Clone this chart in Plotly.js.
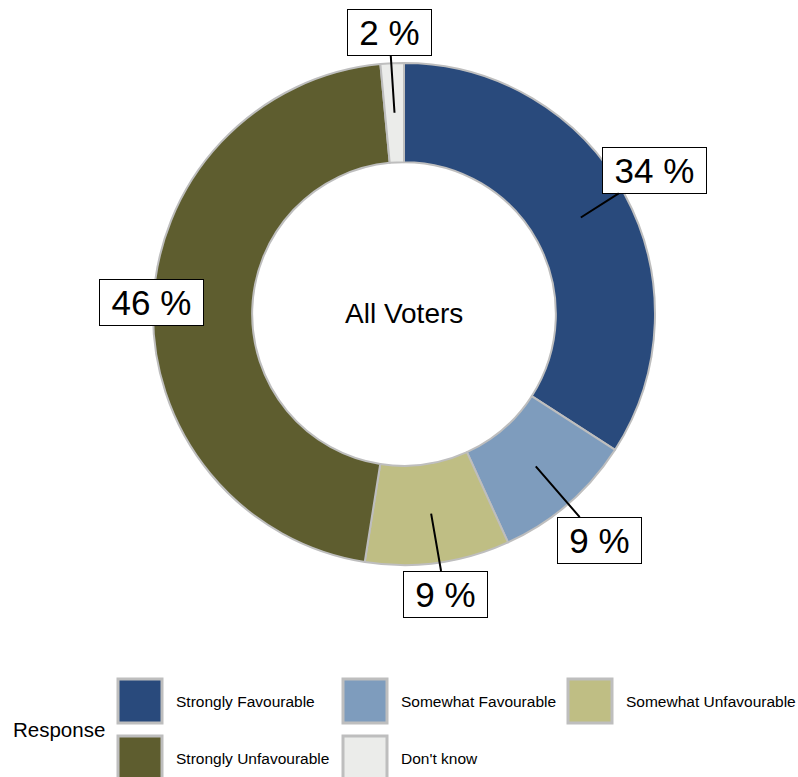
<!DOCTYPE html>
<html>
<head>
<meta charset="utf-8">
<script src="https://cdn.plot.ly/plotly-3.0.1.min.js"></script>
<style>html,body{margin:0;padding:0;background:#fff;}#chart{width:798px;height:777px;}</style>
</head>
<body>
<div id="chart"></div>
<script>
// ---- data ----
const categories = ["Strongly Favourable", "Somewhat Favourable", "Somewhat Unfavourable", "Strongly Unfavourable", "Don't know"];
const shares = [34.1, 9.1, 9.3, 46.0, 1.5];
const centerLabel = "All Voters";
const legendTitle = "Response";

// ---- style / layout ----
const colors = ["#294a7c", "#7e9cbd", "#bfbe84", "#5e5d2f", "#ebecea"];
const W = 798, H = 777;
const cx = 404, cy = 314, R = 251, holeFrac = 0.605;
const labelRadius = [289, 299, 283, 253, 282];
const labelAngleShift = [-1.2, 0, -0.6, 0.9, -0.3]; // degrees
const tipRadius = R * (1 + holeFrac) / 2;
const FONT = "Liberation Sans, Arial, sans-serif";
const LABEL_SIZE = 35;

const px2x = p => p / W;
const py2y = p => 1 - p / H;

const ctx = document.createElement("canvas").getContext("2d");
ctx.font = LABEL_SIZE + "px 'Liberation Sans', Arial, sans-serif";

const total = shares.reduce((a, b) => a + b, 0);
const annotations = [];
let cum = 0;
shares.forEach((v, i) => {
  const mid = (cum + v / 2) / total * 2 * Math.PI; // clockwise from top
  cum += v;
  const la = mid + labelAngleShift[i] * Math.PI / 180;
  const tx = cx + tipRadius * Math.sin(mid), ty = cy - tipRadius * Math.cos(mid);
  const bx = cx + labelRadius[i] * Math.sin(la), by = cy - labelRadius[i] * Math.cos(la);
  const txt = Math.round(v) + " %";
  annotations.push({
    xref: "paper", yref: "paper", x: px2x(tx), y: py2y(ty),
    ax: bx - tx, ay: by - ty, axref: "pixel", ayref: "pixel",
    text: txt, showarrow: true, arrowhead: 0, arrowwidth: 2, arrowcolor: "#000",
    width: Math.round(ctx.measureText(txt).width) + 17,
    font: {family: FONT, size: LABEL_SIZE, color: "#000"},
    bgcolor: "#fff", bordercolor: "#000", borderwidth: 1, borderpad: 3
  });
});

// center label
annotations.push({xref: "paper", yref: "paper", x: px2x(cx), y: py2y(cy - 1),
  xanchor: "center", yanchor: "middle", showarrow: false, text: centerLabel,
  font: {family: FONT, size: 28, color: "#000"}});

// custom legend
const shapes = [];
const colStart = 118, colStep = 225, rowTop = [679, 736], sw = 44;
categories.forEach((c, i) => {
  const col = i % 3, row = Math.floor(i / 3);
  const x0 = colStart + col * colStep, y0 = rowTop[row];
  shapes.push({type: "rect", xref: "paper", yref: "paper",
    x0: px2x(x0), x1: px2x(x0 + sw), y0: py2y(y0), y1: py2y(y0 + sw),
    fillcolor: colors[i], line: {color: "#bebebe", width: 3}});
  annotations.push({xref: "paper", yref: "paper", x: px2x(x0 + sw + 12), y: py2y(y0 + sw / 2),
    xanchor: "left", yanchor: "middle", showarrow: false, text: c,
    font: {family: FONT, size: 15.5, color: "#000"}});
});
annotations.push({xref: "paper", yref: "paper", x: px2x(11), y: py2y(729),
  xanchor: "left", yanchor: "middle", showarrow: false, text: legendTitle,
  font: {family: FONT, size: 20.5, color: "#000"}});

const trace = {
  type: "pie", labels: categories, values: shares, sort: false, direction: "clockwise", rotation: 0,
  hole: holeFrac, textinfo: "none", hoverinfo: "label+percent",
  marker: {colors: colors, line: {color: "#bebebe", width: 2}},
  domain: {x: [px2x(cx - R), px2x(cx + R)], y: [py2y(cy + R), py2y(cy - R)]},
  showlegend: false
};

Plotly.newPlot("chart", [trace], {
  width: W, height: H, margin: {l: 0, r: 0, t: 0, b: 0},
  paper_bgcolor: "#fff", plot_bgcolor: "#fff", showlegend: false,
  annotations: annotations, shapes: shapes, font: {family: FONT}
}, {displayModeBar: false, staticPlot: true});
</script>
</body>
</html>
